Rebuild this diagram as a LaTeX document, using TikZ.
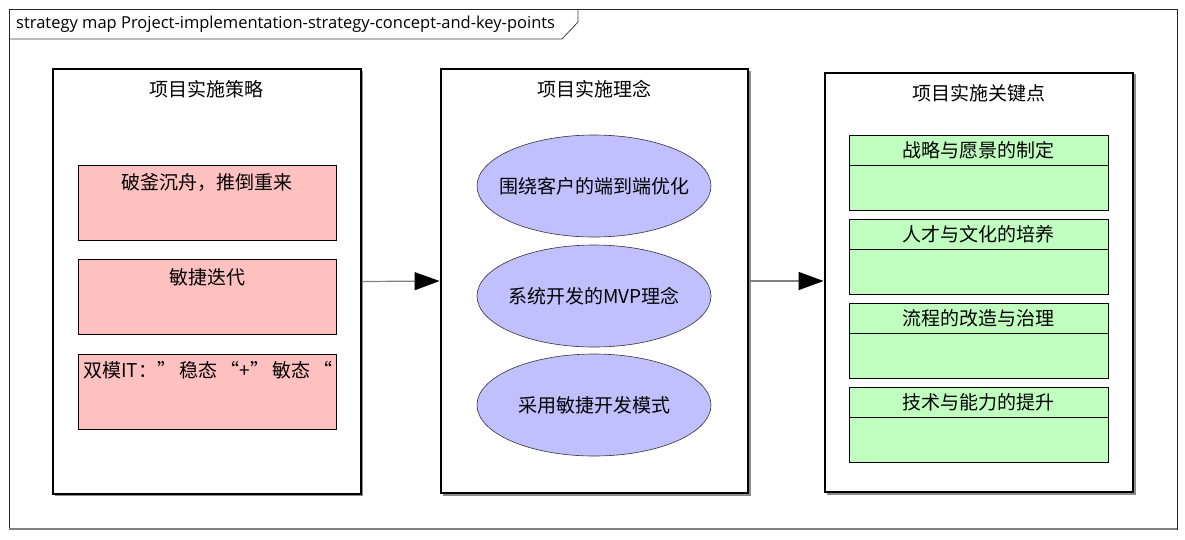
\documentclass[tikz,border=0pt]{standalone}
\usepackage{fontspec}
\setmainfont{Open Sans}
\newfontfamily\cjk{Noto Sans CJK SC}
\usetikzlibrary{arrows.meta,shapes.geometric,calc}
\definecolor{pinkfill}{HTML}{FFC0C0}
\definecolor{lavfill}{HTML}{C0C0FF}
\definecolor{greenfill}{HTML}{C0FFC0}
\definecolor{framegray}{HTML}{808080}
\tikzset{
  pkgbox/.style={draw=black,line width=2.8pt,fill=white,inner sep=0pt,
     minimum width=#1},
  pinkbox/.style={draw=black,line width=0.8pt,fill=pinkfill,inner sep=0pt,
     minimum width=258pt,minimum height=75pt},
  greenbox/.style={draw=black,line width=0.8pt,fill=greenfill,inner sep=0pt,
     minimum width=259pt,minimum height=75pt},
  lavell/.style={ellipse,draw=black!80,line width=0.6pt,fill=lavfill,inner sep=0pt,
     minimum width=234pt,minimum height=102pt},
  cjktext/.style={inner sep=0pt,font=\cjk\fontsize{19}{22}\selectfont},
  flowarrow/.style={draw=framegray,line width=1.2pt,
     -{Triangle[length=25pt,width=18pt,fill=black,color=black]}},
  shadowline/.style={draw=black!45,line width=1.5pt}
}
\begin{document}
\begin{tikzpicture}[x=1pt,y=-1pt]
\useasboundingbox (0,0) rectangle (1185,539);
\fill[white] (0,0) rectangle (1185,539);
% outer frame
\draw[black!85,line width=0.8pt] (9,9) rectangle (1177,529);
\draw[framegray,line width=1.2pt] (9,529) -- (1177,529);
\coordinate (tabA) at (9,39);
\coordinate (tabB) at (562,39);
\coordinate (tabC) at (578,22);
\coordinate (tabD) at (578,9);
\draw[black!75,line width=0.8pt] (tabA) -- (tabB) -- (tabC) -- (tabD);
\node[anchor=west,inner sep=0pt,font=\fontsize{16.5}{19}\selectfont] (hdr) at (16,24)
  {strategy map Project-implementation-strategy-concept-and-key-points};

% package shadows
\draw[shadowline] (55,495.5) -- (362.5,495.5) -- (362.5,71);
\draw[shadowline] (443,495) -- (750,495) -- (750,71);
\draw[shadowline] (827,494) -- (1135,494) -- (1135,74);

% package boxes
\node[pkgbox=308pt,minimum height=425pt] (strat) at (207,281.5) {};
\node[pkgbox=307pt,minimum height=424pt] (idea) at (594.5,281) {};
\node[pkgbox=308pt,minimum height=419pt] (keys) at (979,282.5) {};

\node[cjktext] (stratT) at (206,89) {项目实施策略};
\node[cjktext] (ideaT) at (594,89) {项目实施理念};
\node[cjktext] (keysT) at (979,93) {项目实施关键点};

% left pink boxes
\node[pinkbox] (p1) at (207.5,202.5) {};
\node[pinkbox] (p2) at (207.5,297) {};
\node[pinkbox] (p3) at (207.5,391.5) {};
\node[cjktext] (p1t) at (207,182) {破釜沉舟，推倒重来};
\node[cjktext] (p2t) at (207,277) {敏捷迭代};
\node[cjktext,anchor=west] (p3t) at (83,370) {双模IT：”\,稳态\,“+”\,敏态\,“};

% middle ellipses
\node[lavell] (e1) at (594,186) {};
\node[lavell] (e2) at (594,296) {};
\node[lavell] (e3) at (594,405) {};
\node[cjktext] (e1t) at (e1.center) {围绕客户的端到端优化};
\node[cjktext] (e2t) at (e2.center) {系统开发的MVP理念};
\node[cjktext] (e3t) at (e3.center) {采用敏捷开发模式};

% right green boxes
\foreach \n/\yc/\txt in {g1/172.5/战略与愿景的制定, g2/256.5/人才与文化的培养, g3/340.5/流程的改造与治理, g4/424.5/技术与能力的提升}{
  \node[greenbox] (\n) at (978.5,\yc) {};
  \draw[black,line width=0.8pt] ($(\n.north west)+(0,30.5)$) -- ($(\n.north east)+(0,30.5)$);
  \node[cjktext] (\n t) at ($(\n.north)+(0,16)$) {\txt};
}

% connectors
\draw[flowarrow] (strat.east) -- (idea.west);
\draw[flowarrow] (idea.east) -- (keys.west |- idea.east);
\end{tikzpicture}
\end{document}
